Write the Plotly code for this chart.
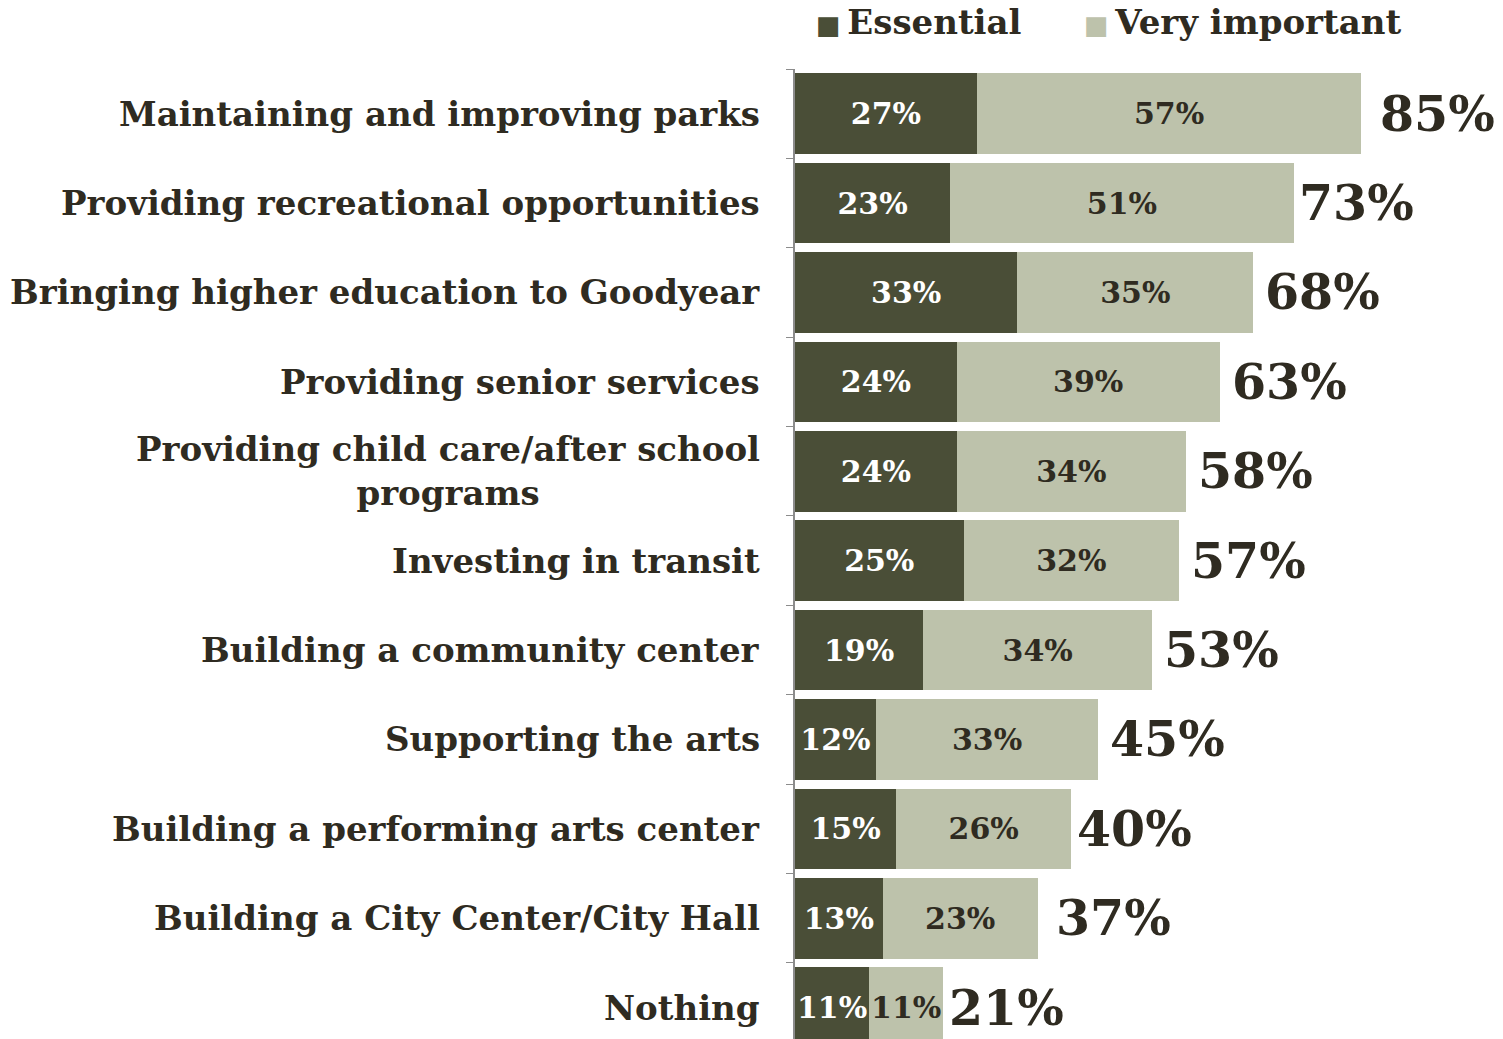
import plotly.graph_objects as go

categories = [
    "Maintaining and improving parks",
    "Providing recreational opportunities",
    "Bringing higher education to Goodyear",
    "Providing senior services",
    "Providing child care/after school<br>programs",
    "Investing in transit",
    "Building a community center",
    "Supporting the arts",
    "Building a performing arts center",
    "Building a City Center/City Hall",
    "Nothing",
]
essential = [27, 23, 33, 24, 24, 25, 19, 12, 15, 13, 11]
very_important = [57, 51, 35, 39, 34, 32, 34, 33, 26, 23, 11]
totals = [85, 73, 68, 63, 58, 57, 53, 45, 40, 37, 21]

DARK = '#4a4e37'
LIGHT = '#bdc2ab'
TEXT = '#2f2b21'
FONT = 'Georgia, "DejaVu Serif", serif'

fig = go.Figure()
fig.add_trace(go.Bar(
    y=categories, x=essential, name='Essential', orientation='h',
    marker=dict(color=DARK, line_width=0),
    text=[f"{v}%" for v in essential], textposition='inside', textangle=0,
    insidetextanchor='middle', constraintext='none',
    textfont=dict(family=FONT, size=30, color='white', weight='bold'),
))
fig.add_trace(go.Bar(
    y=categories, x=very_important, name='Very important', orientation='h',
    marker=dict(color=LIGHT, line_width=0),
    text=[f"{v}%" for v in very_important], textposition='inside', textangle=0,
    insidetextanchor='middle', constraintext='none',
    textfont=dict(family=FONT, size=30, color=TEXT, weight='bold'),
))

# total labels to the right of each bar
for cat, tot in zip(categories, totals):
    fig.add_annotation(x=tot, y=cat, text=f"{tot}%", showarrow=False,
                       xanchor='left', xshift=10,
                       font=dict(family=FONT, size=49, color=TEXT, weight='bold'))
    # category labels, centered multi-line like the original
    fig.add_annotation(x=0, y=cat, text=cat, showarrow=False,
                       xanchor='right', xshift=-33, align='center',
                       font=dict(family=FONT, size=34, color=TEXT, weight='bold'))

# legend drawn as text with a square swatch (the original uses large squares)
for tr, lx in zip(fig.data, [0.0285, 0.4265]):
    fig.add_annotation(
        xref='paper', yref='paper', x=lx, y=1.0485, xanchor='left', yanchor='middle',
        text=f"<span style='color:{tr.marker.color};font-size:26px'>■</span>\u2009{tr.name}",
        showarrow=False, font=dict(family=FONT, size=34, color=TEXT, weight='bold'))

fig.update_layout(
    barmode='stack', bargap=0.1, showlegend=False,
    width=1503, height=1039,
    margin=dict(l=787, r=42, t=61, b=0, autoexpand=False),
    plot_bgcolor='white', paper_bgcolor='white',
    font=dict(family=FONT, color=TEXT),
)
fig.update_xaxes(range=[0, 100], visible=False)
fig.update_yaxes(autorange=False, range=[10.44, -0.5], showticklabels=False,
                 showline=True, linecolor='#8c8c8c', linewidth=2,
                 ticks='outside', ticklen=7, tickcolor='#8c8c8c',
                 tickson='boundaries', showgrid=False)

fig.write_html("out.html")
